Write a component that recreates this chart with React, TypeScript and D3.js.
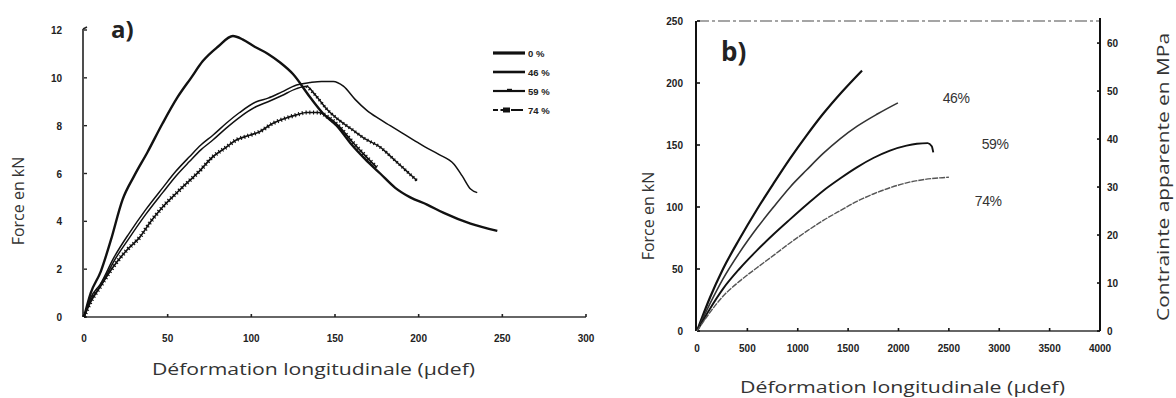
import React from 'react';
import * as d3 from 'd3';

// ---------- Panel a data ----------
const aTicksX = [0, 50, 100, 150, 200, 250, 300];
const aTicksY = [0, 2, 4, 6, 8, 10, 12];
const aLegend = ['0 %', '46 %', '59 %', '74 %'];

const a0: number[][] = [[0,0],[4,1.0],[10,1.9],[16,3.2],[23,4.9],[30,5.9],[38,6.9],[47,8.1],[56,9.2],[64,10.0],[71,10.7],[80,11.3],[89,11.75],[95,11.6],[102,11.3],[110,11.0],[117,10.65],[125,10.15],[135,9.2],[143,8.5],[151,8.0],[160,7.2],[168,6.6],[177,6.0],[186,5.4],[195,5.0],[205,4.7],[215,4.35],[231,3.9],[247,3.6]];
const a46: number[][] = [[0,0],[4,0.8],[10,1.4],[18,2.5],[27,3.5],[37,4.5],[47,5.4],[55,6.1],[63,6.7],[70,7.2],[77,7.6],[85,8.1],[93,8.55],[103,9.0],[110,9.15],[118,9.4],[127,9.7],[135,9.8],[142,9.85],[149,9.85],[155,9.65],[162,9.1],[169,8.64],[176,8.3],[183,8.0],[190,7.7],[197,7.4],[204,7.1],[212,6.8],[221,6.4],[226,5.9],[231,5.35],[235,5.2]];
const a59: number[][] = [[0,0],[4,0.7],[10,1.3],[18,2.35],[27,3.3],[37,4.3],[47,5.2],[55,5.9],[63,6.5],[70,7.0],[77,7.4],[85,7.9],[93,8.35],[103,8.8],[110,9.0],[118,9.25],[127,9.55],[133,9.65],[138,9.3],[145,8.7],[153,8.2],[160,7.85],[168,7.45],[177,7.1],[185,6.6],[192,6.15],[199,5.7]];
const a74: number[][] = [[0,0],[3.6,0.58],[10,1.3],[17.5,2.1],[25,2.75],[33.5,3.35],[40,4.0],[47,4.6],[57,5.3],[69,6.1],[77,6.7],[85,7.1],[91,7.4],[99,7.6],[105,7.75],[113,8.1],[120,8.3],[127,8.45],[133,8.55],[140,8.55],[146,8.35],[152,8.0],[160,7.35],[168,6.75],[175,6.25]];

// ---------- Panel b data ----------
const bTicksX = [0, 500, 1000, 1500, 2000, 2500, 3000, 3500, 4000];
const bTicksY = [0, 50, 100, 150, 200, 250];
const bTicksR = [0, 10, 20, 30, 40, 50, 60];

const b0: number[][] = [[0,0],[129,27],[258,50],[420,74],[595,98],[760,119],[923,139],[1090,158],[1250,175],[1440,193],[1637,210]];
const b46: number[][] = [[0,0],[129,22],[258,42],[420,63],[595,83],[760,100],[923,116],[1090,130],[1250,143],[1420,155],[1587,165],[1790,175],[1994,184]];
const b59: number[][] = [[0,0],[129,18],[258,34],[420,50],[595,65],[760,78],[923,90],[1090,102],[1250,113],[1420,123],[1587,132],[1750,139.5],[1915,145.5],[2080,149.5],[2183,151],[2290,151.5],[2330,149],[2345,144]];
const b74: number[][] = [[0,0],[129,15],[258,28],[420,40],[595,51],[760,61],[923,71],[1090,80.5],[1250,89],[1420,97],[1587,104.5],[1750,110.5],[1915,115.5],[2080,119.5],[2242,122],[2411,123.5],[2500,124]];
const bLabels = ['46%', '59%', '74%'];
const bLabelPos: number[][] = [[2440, 184], [2827, 147], [2758, 101]];

export default function App() {
  const xA = d3.scaleLinear().domain([0, 300]).range([84, 586]);
  const yA = d3.scaleLinear().domain([0, 12]).range([317, 30]);
  const xB = d3.scaleLinear().domain([0, 4000]).range([697, 1100]);
  const yB = d3.scaleLinear().domain([0, 250]).range([331, 21]);
  const yR = d3.scaleLinear().domain([0, 64.6]).range([331, 21]);

  const lineA = d3.line<number[]>().x(d => xA(d[0])).y(d => yA(d[1])).curve(d3.curveMonotoneX);
  const lineB = d3.line<number[]>().x(d => xB(d[0])).y(d => yB(d[1])).curve(d3.curveMonotoneX);

  const tickFont = { fontFamily: 'Liberation Sans, Arial, sans-serif', fontWeight: 700, fontSize: 10, fill: '#222' } as any;
  const titleFont = { fontFamily: 'Open Sans, sans-serif', fontSize: 16, fill: '#333' } as any;

  const legY = [53, 72, 91, 110];

  return (
    <svg width={1176} height={398} style={{ position: 'absolute', left: 0, top: 0, background: '#fff' }}>
      <rect x={0} y={0} width={1176} height={398} fill="#fff" />
      {/* ===== Panel a ===== */}
      <g>
        <line x1={xA(0) - 1} x2={xA(0) - 1} y1={yA(12) - 1} y2={yA(0)} stroke="#222" strokeWidth={1.6} />
        <line x1={xA(0) - 1} x2={xA(0) + 3} y1={yA(12) - 1} y2={yA(12) - 3} stroke="#222" strokeWidth={1.4} />
        <line x1={xA(0)} x2={xA(300)} y1={yA(0)} y2={yA(0)} stroke="#333" strokeWidth={1.5} />
        {aTicksY.map(t => (
          <g key={'ay' + t}>
            <line x1={xA(0)} x2={xA(0) + 3} y1={yA(t)} y2={yA(t)} stroke="#222" strokeWidth={1.4} />
            <text x={62} y={yA(t) + 4} textAnchor="end" style={tickFont}>{t}</text>
          </g>
        ))}
        {aTicksX.map(t => (
          <g key={'ax' + t}>
            <line x1={xA(t)} x2={xA(t)} y1={yA(0)} y2={yA(0) - 3} stroke="#222" strokeWidth={1.6} />
            <text x={xA(t)} y={342} textAnchor="middle" style={tickFont}>{t}</text>
          </g>
        ))}
        {/* curves */}
        <path d={lineA(a0) || ''} fill="none" stroke="#111" strokeWidth={2.4} />
        <path d={lineA(a46) || ''} fill="none" stroke="#111" strokeWidth={1.5} />
        <path d={lineA(a59) || ''} fill="none" stroke="#111" strokeWidth={1.5} />
        <path d={lineA(a59.filter(d => d[0] >= 133)) || ''} fill="none" stroke="#111" strokeWidth={3.2} strokeDasharray="1.2 2.5" />
        <path d={lineA(a74) || ''} fill="none" stroke="#111" strokeWidth={1.7} />
        <path d={lineA(a74) || ''} fill="none" stroke="#111" strokeWidth={4.2} strokeDasharray="1.1 2.6" />
        {/* legend */}
        {aLegend.map((l, i) => (
          <g key={'leg' + i}>
            <line x1={493} x2={525} y1={legY[i]} y2={legY[i]} stroke="#111"
              strokeWidth={i === 0 ? 3.2 : i === 1 ? 2.6 : 2.2}
              strokeDasharray={i === 3 ? '5 2.5 8 2.5 12' : undefined} />
            {i === 2 && <rect x={507} y={legY[i] - 2.2} width={5} height={2.5} fill="#111" />}
            {i === 3 && <rect x={503} y={legY[i] - 2.5} width={7} height={5} fill="#111" />}
            <text x={528} y={legY[i] + 3.5} style={{ ...tickFont, fontSize: 9.5 }}>{l}</text>
          </g>
        ))}
        <text x={111} y={38} style={{ fontFamily: 'Open Sans, sans-serif', fontWeight: 700, fontSize: 24, fill: '#222' }}>a)</text>
        <text transform="translate(24,201) rotate(-90)" textAnchor="middle" style={titleFont}>Force en kN</text>
        <text x={152} y={375} textLength={323} lengthAdjust="spacingAndGlyphs" style={titleFont}>Déformation longitudinale (µdef)</text>
      </g>

      {/* ===== Panel b ===== */}
      <g>
        <line x1={xB(0)} x2={xB(4000)} y1={yB(250)} y2={yB(250)} stroke="#888" strokeWidth={1.3} strokeDasharray="12 3 3 3" />
        <line x1={xB(0) - 1} x2={xB(0) - 1} y1={yB(250)} y2={yB(0)} stroke="#111" strokeWidth={2} />
        <line x1={xB(0)} x2={xB(4000)} y1={yB(0)} y2={yB(0)} stroke="#333" strokeWidth={1.4} />
        <line x1={xB(4000)} x2={xB(4000)} y1={yB(250) - 3} y2={yB(0)} stroke="#111" strokeWidth={2} />
        {bTicksY.map(t => (
          <g key={'by' + t}>
            <line x1={xB(0)} x2={xB(0) + 3} y1={yB(t)} y2={yB(t)} stroke="#111" strokeWidth={1.6} />
            <text x={683} y={yB(t) + 4} textAnchor="end" style={tickFont}>{t}</text>
          </g>
        ))}
        {bTicksX.map(t => (
          <g key={'bx' + t}>
            <line x1={xB(t)} x2={xB(t)} y1={yB(0)} y2={yB(0) - 3} stroke="#111" strokeWidth={1.6} />
            <text x={xB(t)} y={352} textAnchor="middle" style={tickFont}>{t}</text>
          </g>
        ))}
        {bTicksR.map(t => (
          <g key={'br' + t}>
            <line x1={xB(4000) - 3} x2={xB(4000)} y1={yR(t)} y2={yR(t)} stroke="#111" strokeWidth={1.6} />
            <text x={1107} y={yR(t) + 4} style={tickFont}>{t}</text>
          </g>
        ))}
        <path d={lineB(b0) || ''} fill="none" stroke="#111" strokeWidth={2.2} />
        <path d={lineB(b46) || ''} fill="none" stroke="#333" strokeWidth={1.6} />
        <path d={lineB(b59) || ''} fill="none" stroke="#111" strokeWidth={1.9} />
        <path d={lineB(b74) || ''} fill="none" stroke="#555" strokeWidth={1.4} strokeDasharray="6 1" />
        {bLabels.map((l, i) => (
          <text key={'bl' + i} x={xB(bLabelPos[i][0])} y={yB(bLabelPos[i][1])}
            style={{ fontFamily: 'Liberation Sans, Arial, sans-serif', fontSize: 14, fill: '#333', letterSpacing: -0.5 }}>{l}</text>
        ))}
        <text x={721} y={61} style={{ fontFamily: 'Open Sans, sans-serif', fontWeight: 700, fontSize: 26, fill: '#222' }}>b)</text>
        <text transform="translate(654,216) rotate(-90)" textAnchor="middle" style={titleFont}>Force en kN</text>
        <text transform="translate(1169,177) rotate(-90)" textAnchor="middle" textLength={288} lengthAdjust="spacingAndGlyphs" style={titleFont}>Contrainte apparente en MPa</text>
        <text x={740} y={393} textLength={325} lengthAdjust="spacingAndGlyphs" style={titleFont}>Déformation longitudinale (µdef)</text>
      </g>
    </svg>
  );
}
